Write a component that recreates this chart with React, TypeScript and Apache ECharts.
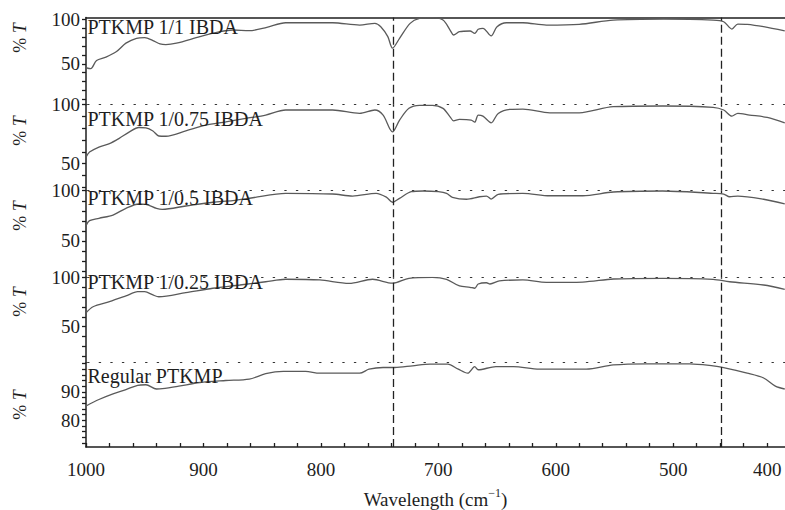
import { useEffect, useRef } from 'react';
import * as echarts from 'echarts';

const FONT = '"Liberation Serif", "Times New Roman", serif';
const INK = '#1e1e1e';
const CURVE = '#5a5a5a';

// ---- data ----
const panelNames = ['PTKMP 1/1 IBDA', 'PTKMP 1/0.75 IBDA', 'PTKMP 1/0.5 IBDA', 'PTKMP 1/0.25 IBDA', 'Regular PTKMP'];

const spec1: number[][] = [
  [1000, 45.5], [996, 44.5], [991, 53.7], [983, 57.5], [974, 63.8], [966, 73.2], [957, 78.7], [950, 79.4], [943, 76.1],
  [937, 72.4], [932, 71.6], [923, 73.2], [903, 80.5], [886, 86.1], [875, 88], [861, 87.2], [846, 91], [830, 96.2],
  [790, 96.2], [767, 93.6], [754, 95.5], [749, 91.7], [743, 80.5], [739, 67.6], [733, 78.7], [724, 95.5], [716, 101],
  [705, 102], [696, 99.2], [690, 88], [687, 82.4], [682, 86.1], [673, 86.9], [669, 84.3], [666, 88.8], [662, 89.9],
  [655, 81.3], [650, 91.7], [642, 96.2], [628, 96.2], [608, 93.6], [580, 94.4], [551, 99.2], [508, 100.3], [466, 99.2],
  [457, 97.3], [450, 89.1], [445, 94.7], [437, 94.4], [423, 91.7], [405, 86.9],
];
const spec2: number[][] = [
  [1000, 55.4], [997, 59.7], [989, 64], [980, 66.9], [972, 71.2], [963, 76.9], [955, 80.6], [949, 80.3], [943, 77.7],
  [938, 73.4], [932, 73.2], [915, 77.7], [898, 82.6], [881, 85.4], [864, 88.3], [847, 91.2], [830, 95.5], [790, 95.5],
  [767, 92.6], [754, 95.5], [747, 91.2], [739, 76.9], [733, 86.9], [725, 96.9], [716, 99.5], [705, 99.5], [696, 96.9],
  [690, 89.7], [687, 86.3], [682, 87.5], [672, 86.9], [669, 85.2], [666, 91.2], [662, 90.3], [655, 84.6], [649, 92.6],
  [639, 96.1], [628, 96.3], [605, 93.1], [580, 93.1], [551, 98.3], [509, 98.9], [466, 97.8], [457, 95.5], [450, 90.3],
  [445, 92.6], [435, 91.2], [420, 89.2], [405, 84.6],
];
const spec3: number[][] = [
  [1000, 65.2], [997, 70.2], [989, 72.6], [977, 75.8], [966, 82.5], [955, 86.8], [949, 86.5], [940, 82.5], [935, 81.5],
  [915, 84.8], [892, 88.5], [875, 90.1], [858, 93], [830, 97.4], [790, 96.7], [773, 94.7], [753, 97.4], [744, 93.4],
  [739, 88.5], [733, 92.4], [723, 99], [713, 99.7], [700, 99], [693, 97.4], [688, 93.4], [676, 91.5], [665, 94],
  [659, 94.7], [655, 91.7], [649, 96.4], [628, 97.4], [605, 95], [577, 95], [551, 98.7], [509, 99.7], [466, 97.4],
  [457, 96.7], [452, 94], [445, 94.7], [423, 91.5], [405, 86.8],
];
const spec4: number[][] = [
  [1000, 64.1], [994, 70.2], [980, 75.3], [966, 81.1], [956, 85.4], [950, 85.4], [943, 82.1], [938, 80.3], [915, 84.4],
  [892, 88.9], [869, 92.2], [847, 95.5], [830, 98], [801, 97.3], [776, 93.9], [756, 98], [739, 94], [725, 99],
  [705, 100], [693, 98], [682, 91.2], [673, 89.9], [669, 88.9], [666, 93.2], [659, 94.5], [656, 93.2], [648, 96.3],
  [628, 97.3], [608, 94.9], [577, 95.2], [551, 98.3], [509, 99], [466, 98], [452, 95.5], [423, 92.2], [405, 87.8],
];
const spec5: number[][] = [
  [1000, 85], [989, 87.3], [977, 89.3], [966, 90.8], [956, 92.3], [949, 92.5], [940, 91], [935, 91.1], [921, 92],
  [903, 93.3], [881, 94], [861, 94.5], [847, 96.4], [832, 97.2], [813, 97.2], [801, 96.6], [767, 96.6], [759, 98],
  [747, 98.6], [737, 98.6], [722, 99.2], [707, 99.8], [692, 99.8], [683, 98], [675, 96.6], [669, 98.9], [666, 97.8],
  [651, 98.9], [636, 98.9], [614, 98], [574, 98], [551, 99.5], [523, 99.9], [486, 99.9], [466, 99.2], [459, 98.7],
  [437, 96.6], [423, 94.9], [413, 92], [405, 91],
];
const spectra = [spec1, spec2, spec3, spec4, spec5];

// y-axis ranges per panel
const yMins = [3.9, 26.9, 13.9, 13.5, 70.5];
const yMaxs = [102.2, 100, 100, 100, 100.3];
const yLabelValues = [[50, 100], [50, 100], [50, 100], [50, 100], [80, 90]];
const yTickValues = [
  [10, 20, 30, 40, 50, 60, 70, 80, 90, 100],
  [30, 40, 50, 60, 70, 80, 90, 100],
  [20, 30, 40, 50, 60, 70, 80, 90, 100],
  [20, 30, 40, 50, 60, 70, 80, 90, 100],
  [72, 74, 76, 78, 80, 82, 84, 86, 88, 90, 92, 94, 96, 98, 100],
];

// x axis (wavenumber, reversed)
const xMin = 404.8;
const xMax = 1000;
const xTickValues = [1000, 980, 960, 940, 920, 900, 880, 860, 840, 820, 800, 780, 760, 740, 720, 700, 680, 660, 640, 620, 600, 580, 560, 540, 520, 500, 480, 460, 440, 420];
const xLabelValues = [1000, 900, 800, 700, 600, 500, 420];
const xLabelTexts = ['1000', '900', '800', '700', '600', '500', '400'];
const guideLines = [738.6, 458.7];

// ---- layout ----
const panelTops = [17.4, 104.7, 190.7, 277.3, 362.7];
const plotBottom = 448.3;
const plotLeft = 86;
const nameY = [27, 119, 197.5, 282, 376.3];
const yTitleY = [38, 131, 216, 302, 405];

export default function App() {
  const ref = useRef<HTMLDivElement>(null);
  useEffect(() => {
    if (!ref.current) return;
    const chart = echarts.init(ref.current, undefined, { renderer: 'svg' });

    const grids = panelTops.map((t, i) => ({
      left: plotLeft,
      right: 0,
      top: t,
      height: (i < 4 ? panelTops[i + 1] : plotBottom) - t,
      containLabel: false,
    }));

    const xAxes: any[] = panelTops.map((_, i) => ({
      gridIndex: i,
      type: 'value',
      min: xMin,
      max: xMax,
      inverse: true,
      position: 'top',
      axisLine: {
        show: true,
        onZero: false,
        lineStyle: i === 0 ? { color: INK, width: 1.5, type: 'solid' } : { color: '#333', width: 1.2, type: [1.4, 10.2] },
      },
      axisTick: { show: false },
      axisLabel: { show: false },
      splitLine: { show: false },
    }));
    xAxes.push({
      gridIndex: 4,
      type: 'value',
      min: xMin,
      max: xMax,
      inverse: true,
      position: 'bottom',
      axisLine: { show: true, onZero: false, lineStyle: { color: INK, width: 1.5 } },
      axisTick: { show: true, inside: true, length: 4, customValues: xTickValues, lineStyle: { color: INK, width: 1.3 } },
      axisLabel: {
        show: true,
        customValues: xLabelValues,
        formatter: (v: number) => {
          const k = xLabelValues.findIndex((x) => Math.abs(x - v) < 1e-6);
          return k >= 0 ? xLabelTexts[k] : '';
        },
        margin: 13,
        fontFamily: FONT,
        fontSize: 19,
        color: INK,
      },
      splitLine: { show: false },
      name: '{a|Wavelength (cm}{s|−1}{a|)}',
      nameLocation: 'middle',
      nameGap: 40,
      nameTextStyle: {
        rich: {
          a: { fontFamily: FONT, fontSize: 19, color: INK },
          s: { fontFamily: FONT, fontSize: 12, color: INK, padding: [0, 0, 13, 0] },
        },
      },
    });

    const yAxes = panelTops.map((_, i) => ({
      gridIndex: i,
      type: 'value',
      min: yMins[i],
      max: yMaxs[i],
      axisLine: { show: true, lineStyle: { color: INK, width: 1.5 } },
      axisTick: { show: true, length: 4, customValues: yTickValues[i], lineStyle: { color: INK, width: 1.3 } },
      axisLabel: { show: true, customValues: yLabelValues[i], margin: 6, fontFamily: FONT, fontSize: 19, color: INK },
      splitLine: { show: false },
    }));

    const series = spectra.map((d, i) => ({
      type: 'line',
      xAxisIndex: i,
      yAxisIndex: i,
      data: d,
      showSymbol: false,
      smooth: 0.3,
      clip: true,
      lineStyle: { color: CURVE, width: 1.3 },
      z: 2,
      markLine: {
        silent: true,
        symbol: 'none',
        label: { show: false },
        lineStyle: { color: '#222', width: 1.3, type: [8, 4] },
        data: guideLines.map((x) => ({ xAxis: x })),
        animation: false,
      },
    }));

    const graphics: any[] = [];
    panelNames.forEach((n, i) => {
      graphics.push({
        type: 'text',
        x: 87.5,
        y: nameY[i],
        z: 10,
        style: { text: n, fontFamily: FONT, fontSize: 20, fill: INK, align: 'left', verticalAlign: 'middle', textAlign: 'left', textVerticalAlign: 'middle' },
      });
      graphics.push({
        type: 'text',
        x: 20,
        y: yTitleY[i],
        rotation: Math.PI / 2,
        z: 10,
        style: {
          text: '{a|%} {b|T}',
          align: 'center',
          verticalAlign: 'middle',
          textAlign: 'center',
          textVerticalAlign: 'middle',
          fill: INK,
          fontFamily: FONT,
          fontSize: 18,
          rich: {
            a: { fontFamily: FONT, fontSize: 18, fill: INK },
            b: { fontFamily: FONT, fontSize: 18, fontStyle: 'italic', fill: INK },
          },
        },
      });
    });

    chart.setOption({
      animation: false,
      backgroundColor: '#ffffff',
      textStyle: { fontFamily: FONT },
      grid: grids,
      xAxis: xAxes,
      yAxis: yAxes,
      series,
      graphic: graphics,
    });
    return () => chart.dispose();
  }, []);
  return (
    <div
      ref={ref}
      style={{ position: 'fixed', left: 0, top: 0, width: 785, height: 510, background: '#fff' }}
    />
  );
}
